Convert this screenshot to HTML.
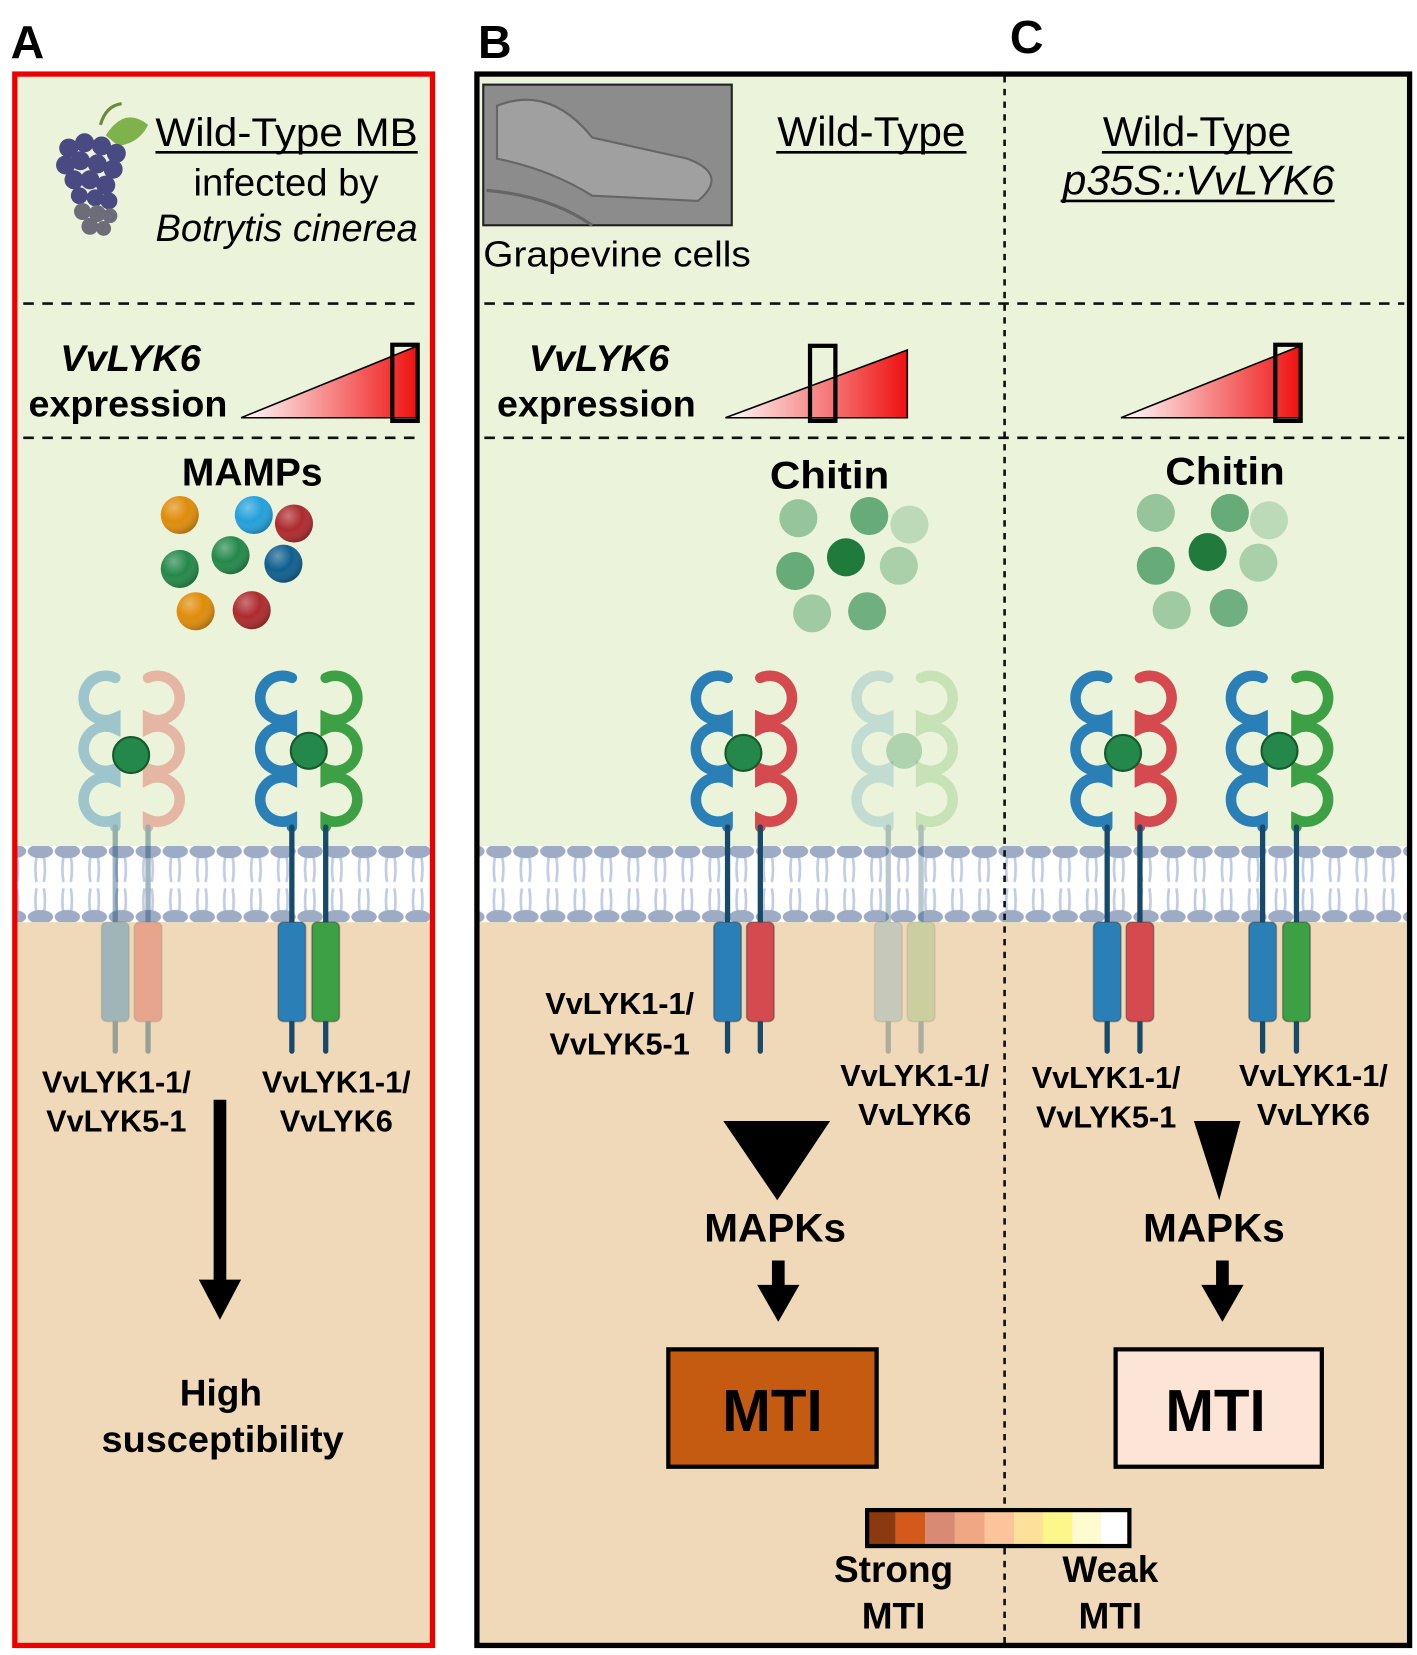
<!DOCTYPE html>
<html><head><meta charset="utf-8"><style>
html,body{margin:0;padding:0;background:#fff}
svg{display:block}
text{font-family:"Liberation Sans",Arial,sans-serif;fill:#000}
.b{font-weight:bold}
</style></head><body>
<svg width="1417" height="1655" viewBox="0 0 1340 1565" xmlns="http://www.w3.org/2000/svg">
<defs>
<linearGradient id="rg" x1="0" x2="1" y1="0" y2="0"><stop offset="0" stop-color="#fff"/><stop offset="1" stop-color="#ee1111"/></linearGradient>
<radialGradient id="ball" cx="0.35" cy="0.3" r="0.75"><stop offset="0" stop-color="#fff" stop-opacity="0.35"/><stop offset="0.5" stop-color="#fff" stop-opacity="0"/><stop offset="1" stop-color="#000" stop-opacity="0.25"/></radialGradient>
<pattern id="mem" x="0" y="800" width="25.5" height="72" patternUnits="userSpaceOnUse">
<path d="M9 10 Q7 22 9 34 M16 10 Q18 22 16 34 M9 40 Q7 52 9 64 M16 40 Q18 52 16 64" stroke="#c0cbe4" stroke-width="2.5" fill="none"/>
<ellipse cx="12.75" cy="5" rx="12" ry="6.5" fill="#9eabc5"/>
<ellipse cx="12.75" cy="67" rx="12" ry="6.5" fill="#9eabc5"/>
</pattern>
<g id="chain">
<path d="M0 5 A21 21 0 1 0 0 43 L0 53 A21 21 0 1 0 0 91 L0 101 A21 21 0 1 0 0 139 L0 146" fill="none" stroke="currentColor" stroke-width="10" stroke-linecap="round"/>
<line x1="0" y1="146" x2="0" y2="358" stroke="#164a68" stroke-width="5" stroke-linecap="round"/>
<rect x="-13" y="236" width="26" height="94" rx="5" fill="currentColor" stroke="#333" stroke-opacity="0.4" stroke-width="1.5"/>
</g>
</defs>

<rect x="14" y="70" width="395" height="730" fill="#ebf4da"/>
<rect x="14" y="872" width="395" height="684" fill="#efd9b8"/>
<rect x="14" y="800" width="395" height="72" fill="#fff"/>
<rect x="14" y="800" width="395" height="72" fill="url(#mem)"/>
<rect x="451" y="70" width="882" height="730" fill="#ebf4da"/>
<rect x="451" y="872" width="882" height="684" fill="#efd9b8"/>
<rect x="451" y="800" width="882" height="72" fill="#fff"/>
<rect x="451" y="800" width="882" height="72" fill="url(#mem)"/>

<g stroke="#111" stroke-width="2.5" stroke-dasharray="10 8">
<line x1="22" y1="287" x2="400" y2="287"/>
<line x1="22" y1="414" x2="400" y2="414"/>
<line x1="458" y1="287" x2="1328" y2="287"/>
<line x1="458" y1="414" x2="1328" y2="414"/>
</g>
<line x1="950" y1="72" x2="950" y2="1555" stroke="#111" stroke-width="2.5" stroke-dasharray="6 6"/>

<rect x="14" y="70" width="395" height="1486" fill="none" stroke="#ee0000" stroke-width="5"/>
<rect x="451" y="70" width="882" height="1486" fill="none" stroke="#000" stroke-width="5"/>

<text x="10" y="55" class="b" font-size="44">A</text>
<text x="452" y="55" class="b" font-size="44">B</text>
<text x="955" y="50" class="b" font-size="44">C</text>

<g>
<path d="M95 118 Q100 100 115 98" stroke="#6a8a40" stroke-width="3" fill="none"/>
<path d="M100 128 Q118 100 140 118 Q132 135 112 138 Z" fill="#7fb24a"/>
<g fill="#4a4a82">
<circle cx="65" cy="140" r="9"/><circle cx="80" cy="135" r="9"/><circle cx="96" cy="138" r="9"/><circle cx="110" cy="145" r="9"/>
<circle cx="62" cy="156" r="9"/><circle cx="76" cy="152" r="9"/><circle cx="92" cy="155" r="9"/><circle cx="107" cy="160" r="9"/>
<circle cx="70" cy="170" r="9"/><circle cx="85" cy="170" r="9"/><circle cx="100" cy="175" r="9"/>
<circle cx="75" cy="185" r="8"/><circle cx="90" cy="187" r="8"/><circle cx="103" cy="190" r="8"/>
</g>
<g fill="#6d6d7a"><circle cx="78" cy="200" r="8"/><circle cx="92" cy="202" r="8"/><circle cx="104" cy="204" r="7"/><circle cx="85" cy="214" r="8"/><circle cx="98" cy="216" r="7"/></g>
</g>
<text x="147" y="138" font-size="38" textLength="248" lengthAdjust="spacingAndGlyphs">Wild-Type MB</text>
<line x1="147" y1="144" x2="395" y2="144" stroke="#000" stroke-width="2.5"/>
<text x="183" y="185" font-size="36" textLength="175" lengthAdjust="spacingAndGlyphs">infected by</text>
<text x="147" y="228" font-size="36" font-style="italic" textLength="248" lengthAdjust="spacingAndGlyphs">Botrytis cinerea</text>

<text x="57" y="351" class="b" font-size="35" font-style="italic" textLength="133" lengthAdjust="spacingAndGlyphs">VvLYK6</text>
<text x="27" y="394" class="b" font-size="35" textLength="188" lengthAdjust="spacingAndGlyphs">expression</text>
<polygon points="228,395 395,327 395,395" fill="url(#rg)" stroke="#000" stroke-width="1.5"/>
<rect x="371" y="326" width="24" height="72" fill="none" stroke="#000" stroke-width="4"/>

<text x="172" y="459" class="b" font-size="37" textLength="133" lengthAdjust="spacingAndGlyphs">MAMPs</text>
<g>
<circle cx="170" cy="487" r="18" fill="#de8c0a"/><circle cx="240" cy="487" r="18" fill="#23a0db"/><circle cx="278" cy="495" r="18" fill="#ad2a2e"/>
<circle cx="170" cy="538" r="18" fill="#24884a"/><circle cx="218" cy="525" r="18" fill="#24884a"/><circle cx="268" cy="533" r="18" fill="#0f5f8e"/>
<circle cx="185" cy="578" r="18" fill="#de8c0a"/><circle cx="238" cy="577" r="18" fill="#ad2a2e"/>
<g fill="url(#ball)"><circle cx="170" cy="487" r="18"/><circle cx="240" cy="487" r="18"/><circle cx="278" cy="495" r="18"/><circle cx="170" cy="538" r="18"/><circle cx="218" cy="525" r="18"/><circle cx="268" cy="533" r="18"/><circle cx="185" cy="578" r="18"/><circle cx="238" cy="577" r="18"/></g>
</g>

<g transform="translate(0,636)">
<g opacity="0.4"><use href="#chain" x="109" color="#2a80b6"/><use href="#chain" transform="translate(140,0) scale(-1,1)" color="#de5a52"/></g>
<use href="#chain" x="276" color="#2a80b6"/><use href="#chain" transform="translate(308,0) scale(-1,1)" color="#3ea044"/>
</g>
<circle cx="124" cy="714" r="17" fill="#24884a" stroke="#155a2c" stroke-width="2"/>
<circle cx="292" cy="710" r="17" fill="#24884a" stroke="#155a2c" stroke-width="2"/>

<g class="b" font-size="29" text-anchor="middle" font-weight="bold">
<text x="110" y="1033">VvLYK1-1/</text><text x="110" y="1070">VvLYK5-1</text>
<text x="318" y="1033">VvLYK1-1/</text><text x="318" y="1070">VvLYK6</text>
</g>
<line x1="208" y1="1040" x2="208" y2="1215" stroke="#000" stroke-width="12"/>
<polygon points="188,1210 228,1210 208,1248" fill="#000"/>
<text x="96" y="1329" class="b" font-size="35" text-anchor="start" dx="74">High</text>
<text x="96" y="1373" class="b" font-size="35" textLength="229" lengthAdjust="spacingAndGlyphs">susceptibility</text>

<rect x="457" y="80" width="235" height="133" fill="#8c8c8c" stroke="#222" stroke-width="2"/>
<path d="M470 100 Q520 80 560 130 L650 150 Q690 165 660 190 L560 185 Q520 160 470 150 Z" fill="#a0a0a0" stroke="#666" stroke-width="2"/>
<path d="M460 180 Q520 185 560 213" stroke="#666" stroke-width="3" fill="none"/>
<text x="735" y="138" font-size="39" textLength="178" lengthAdjust="spacingAndGlyphs">Wild-Type</text>
<line x1="734" y1="144" x2="914" y2="144" stroke="#000" stroke-width="2.5"/>
<text x="457" y="252" font-size="34" textLength="253" lengthAdjust="spacingAndGlyphs">Grapevine cells</text>

<text x="500" y="351" class="b" font-size="35" font-style="italic" textLength="133" lengthAdjust="spacingAndGlyphs">VvLYK6</text>
<text x="470" y="394" class="b" font-size="35" textLength="188" lengthAdjust="spacingAndGlyphs">expression</text>
<polygon points="686,395 858,331 858,395" fill="url(#rg)" stroke="#000" stroke-width="1.5"/>
<rect x="766" y="327" width="24" height="71" fill="none" stroke="#000" stroke-width="4"/>

<text x="728" y="462" class="b" font-size="37" textLength="113" lengthAdjust="spacingAndGlyphs">Chitin</text>
<text x="1102" y="458" class="b" font-size="37" textLength="113" lengthAdjust="spacingAndGlyphs">Chitin</text>
<g fill="#2e8b4e">
<circle cx="755" cy="490" r="18" opacity="0.45"/><circle cx="822" cy="488" r="18" opacity="0.7"/><circle cx="860" cy="496" r="18" opacity="0.25"/>
<circle cx="752" cy="540" r="18" opacity="0.7"/><circle cx="800" cy="527" r="18" fill="#1f7a3c"/><circle cx="850" cy="535" r="18" opacity="0.35"/>
<circle cx="768" cy="580" r="18" opacity="0.4"/><circle cx="820" cy="578" r="18" opacity="0.65"/>
<circle cx="1093" cy="485" r="18" opacity="0.45"/><circle cx="1163" cy="485" r="18" opacity="0.7"/><circle cx="1200" cy="492" r="18" opacity="0.25"/>
<circle cx="1093" cy="535" r="18" opacity="0.7"/><circle cx="1142" cy="522" r="18" fill="#1f7a3c"/><circle cx="1190" cy="532" r="18" opacity="0.35"/>
<circle cx="1108" cy="577" r="18" opacity="0.4"/><circle cx="1162" cy="575" r="18" opacity="0.65"/>
</g>

<text x="1043" y="138" font-size="39" textLength="178" lengthAdjust="spacingAndGlyphs">Wild-Type</text>
<line x1="1042" y1="144" x2="1222" y2="144" stroke="#000" stroke-width="2.5"/>
<text x="1005" y="184" font-size="39" font-style="italic" textLength="257" lengthAdjust="spacingAndGlyphs">p35S::VvLYK6</text>
<line x1="1003" y1="190" x2="1262" y2="190" stroke="#000" stroke-width="2.5"/>
<polygon points="1060,395 1230,327 1230,395" fill="url(#rg)" stroke="#000" stroke-width="1.5"/>
<rect x="1206" y="326" width="24" height="72" fill="none" stroke="#000" stroke-width="4"/>

<g transform="translate(0,636)">
<use href="#chain" x="688" color="#2a80b6"/><use href="#chain" transform="translate(719,0) scale(-1,1)" color="#d44a4e"/>
<g opacity="0.3"><use href="#chain" x="840" color="#6aa6c0"/><use href="#chain" transform="translate(871,0) scale(-1,1)" color="#7abb6a"/></g>
<use href="#chain" x="1047" color="#2a80b6"/><use href="#chain" transform="translate(1078,0) scale(-1,1)" color="#d44a4e"/>
<use href="#chain" x="1194" color="#2a80b6"/><use href="#chain" transform="translate(1226,0) scale(-1,1)" color="#3ea044"/>
</g>
<circle cx="703" cy="712" r="17" fill="#24884a" stroke="#155a2c" stroke-width="2"/>
<circle cx="855" cy="710" r="17" fill="#24884a" opacity="0.3"/>
<circle cx="1062" cy="712" r="17" fill="#24884a" stroke="#155a2c" stroke-width="2"/>
<circle cx="1210" cy="710" r="17" fill="#24884a" stroke="#155a2c" stroke-width="2"/>

<g class="b" font-size="29" text-anchor="middle" font-weight="bold">
<text x="586" y="959">VvLYK1-1/</text><text x="586" y="997">VvLYK5-1</text>
<text x="865" y="1027">VvLYK1-1/</text><text x="865" y="1064">VvLYK6</text>
<text x="1046" y="1029">VvLYK1-1/</text><text x="1046" y="1066">VvLYK5-1</text>
<text x="1242" y="1027">VvLYK1-1/</text><text x="1242" y="1064">VvLYK6</text>
</g>

<polygon points="684,1060 785,1060 735,1135" fill="#000"/>
<text x="666" y="1174" class="b" font-size="38" textLength="134" lengthAdjust="spacingAndGlyphs">MAPKs</text>
<line x1="736" y1="1192" x2="736" y2="1222" stroke="#000" stroke-width="12"/>
<polygon points="716,1215 756,1215 736,1250" fill="#000"/>
<rect x="632" y="1276" width="197" height="111" fill="#c55a11" stroke="#000" stroke-width="4"/>
<text x="683" y="1353" class="b" font-size="56" textLength="95" lengthAdjust="spacingAndGlyphs">MTI</text>

<polygon points="1129,1060 1173,1060 1153,1135" fill="#000"/>
<text x="1081" y="1174" class="b" font-size="38" textLength="134" lengthAdjust="spacingAndGlyphs">MAPKs</text>
<line x1="1156" y1="1192" x2="1156" y2="1222" stroke="#000" stroke-width="12"/>
<polygon points="1136,1215 1176,1215 1156,1250" fill="#000"/>
<rect x="1055" y="1276" width="195" height="111" fill="#fce4d6" stroke="#000" stroke-width="4"/>
<text x="1102" y="1353" class="b" font-size="56" textLength="95" lengthAdjust="spacingAndGlyphs">MTI</text>

<g>
<rect x="820" y="1428" width="27" height="34" fill="#8b3a0f"/>
<rect x="847" y="1428" width="28" height="34" fill="#d45a1c"/>
<rect x="875" y="1428" width="28" height="34" fill="#d98a74"/>
<rect x="903" y="1428" width="28" height="34" fill="#f0a884"/>
<rect x="931" y="1428" width="28" height="34" fill="#fcc49a"/>
<rect x="959" y="1428" width="27" height="34" fill="#fde09a"/>
<rect x="986" y="1428" width="28" height="34" fill="#fdf68a"/>
<rect x="1014" y="1428" width="27" height="34" fill="#fefbd0"/>
<rect x="1041" y="1428" width="27" height="34" fill="#ffffff"/>
<rect x="820" y="1428" width="248" height="34" fill="none" stroke="#000" stroke-width="4"/>
</g>
<text x="845" y="1496" class="b" font-size="35" text-anchor="middle">Strong</text>
<text x="845" y="1540" class="b" font-size="35" text-anchor="middle">MTI</text>
<text x="1050" y="1496" class="b" font-size="35" text-anchor="middle">Weak</text>
<text x="1050" y="1540" class="b" font-size="35" text-anchor="middle">MTI</text>
</svg>
</body></html>
